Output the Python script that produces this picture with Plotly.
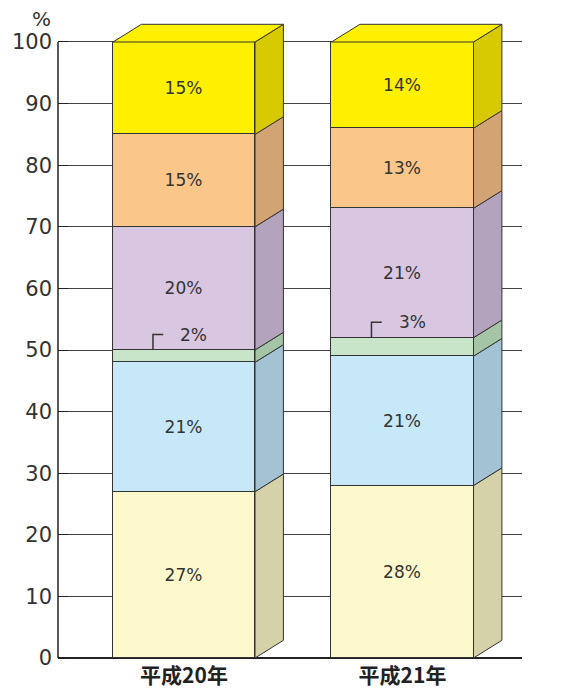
import plotly.graph_objects as go

# Composition by year (percent), bottom to top
years = ["平成20年", "平成21年"]
seg_names = ["区分1", "区分2", "区分3", "区分4", "区分5", "区分6"]
seg_2008 = [27, 21, 2, 20, 15, 15]
seg_2009 = [28, 21, 3, 21, 13, 14]
y_ticks = [0, 10, 20, 30, 40, 50, 60, 70, 80, 90, 100]

front_colors = ["#FEF9CC", "#C6E8F8", "#C9E5C9", "#D9C6E0", "#FBC68A", "#FFF000"]
side_colors = ["#D5D2AA", "#A3C2D3", "#A6C4A6", "#B4A3BD", "#D2A474", "#D8CA00"]
edge = "#333333"
font_fam = "DejaVu Sans, sans-serif"

xpos = [0, 1]
bar_w = 0.65
depth_x = 0.130   # oblique depth in x units
depth_y = 2.87    # oblique depth in y units
small_seg = 2     # index of the thin segment with an external label

series = [seg_2008, seg_2009]

fig = go.Figure()

# Front faces
for k in range(len(seg_names)):
    vals = [s[k] for s in series]
    txt = ["" if k == small_seg else f"{v}%" for v in vals]
    fig.add_trace(go.Bar(
        x=xpos, y=vals, width=bar_w, name=seg_names[k],
        marker=dict(color=front_colors[k], line=dict(color=edge, width=1)),
        text=txt, textposition="inside", insidetextanchor="middle",
        textangle=0, constraintext="none",
        textfont=dict(family=font_fam, size=17, color="#333333"),
        hoverinfo="skip", showlegend=False,
    ))

# Side faces (parallelograms to the right of each segment)
for k in range(len(seg_names)):
    xs, ys = [], []
    for i, s in enumerate(series):
        y0 = sum(s[:k])
        y1 = y0 + s[k]
        xr = xpos[i] + bar_w / 2
        xs += [xr, xr + depth_x, xr + depth_x, xr, xr, None]
        ys += [y0, y0 + depth_y, y1 + depth_y, y1, y0, None]
    fig.add_trace(go.Scatter(
        x=xs, y=ys, mode="lines", fill="toself",
        fillcolor=side_colors[k], line=dict(color=edge, width=1),
        hoverinfo="skip", showlegend=False,
    ))

# Top faces
xs, ys = [], []
for i, s in enumerate(series):
    top = sum(s)
    xl = xpos[i] - bar_w / 2
    xr = xpos[i] + bar_w / 2
    xs += [xl, xl + depth_x, xr + depth_x, xr, xl, None]
    ys += [top, top + depth_y, top + depth_y, top, top, None]
fig.add_trace(go.Scatter(
    x=xs, y=ys, mode="lines", fill="toself",
    fillcolor=front_colors[-1], line=dict(color=edge, width=1),
    hoverinfo="skip", showlegend=False,
))

# Leader marks and labels for the thin segment
for i, s in enumerate(series):
    top = sum(s[:small_seg + 1])
    lx = xpos[i] - 0.142
    fig.add_trace(go.Scatter(
        x=[lx, lx, lx + 0.047], y=[top, top + 2.5, top + 2.5],
        mode="lines", line=dict(color="#333333", width=1.5),
        hoverinfo="skip", showlegend=False,
    ))
    fig.add_annotation(
        x=xpos[i] + 0.045, y=top + 2.5, text=f"{s[small_seg]}%",
        showarrow=False, font=dict(family=font_fam, size=17, color="#333333"),
        xanchor="center", yanchor="middle",
    )

# Unit label above the value axis
fig.add_annotation(
    x=0, xref="paper", xshift=-17, y=1, yref="paper", yshift=1,
    text="%", showarrow=False, xanchor="center", yanchor="middle",
    font=dict(family=font_fam, size=20, color="#333333"),
)

# Value axis line from 0 to 100
fig.add_shape(type="line", xref="paper", x0=0, x1=0, yref="y", y0=0, y1=100,
              line=dict(color="#222222", width=1.5))

fig.update_layout(
    width=579, height=689,
    margin=dict(l=58, r=57, t=20, b=31, autoexpand=False),
    barmode="stack", bargap=0,
    plot_bgcolor="white", paper_bgcolor="white",
    xaxis=dict(
        range=[-0.5767, 1.547], tickvals=xpos,
        ticktext=[f"<b>{y}</b>" for y in years],
        showgrid=False, zeroline=False, showline=False, ticks="",
        automargin=False, ticklabelstandoff=3,
        tickfont=dict(family="Noto Sans CJK JP, sans-serif", size=21, color="#222222"),
    ),
    yaxis=dict(
        range=[0, 103.57], tickvals=y_ticks,
        showgrid=True, gridcolor="#444444", gridwidth=1,
        zeroline=True, zerolinecolor="#222222", zerolinewidth=1.5,
        showline=False, ticks="inside", ticklen=10, tickcolor="#222222",
        automargin=False, ticklabelstandoff=5,
        tickfont=dict(family=font_fam, size=21, color="#333333"),
    ),
)

fig.write_html("out.html")
